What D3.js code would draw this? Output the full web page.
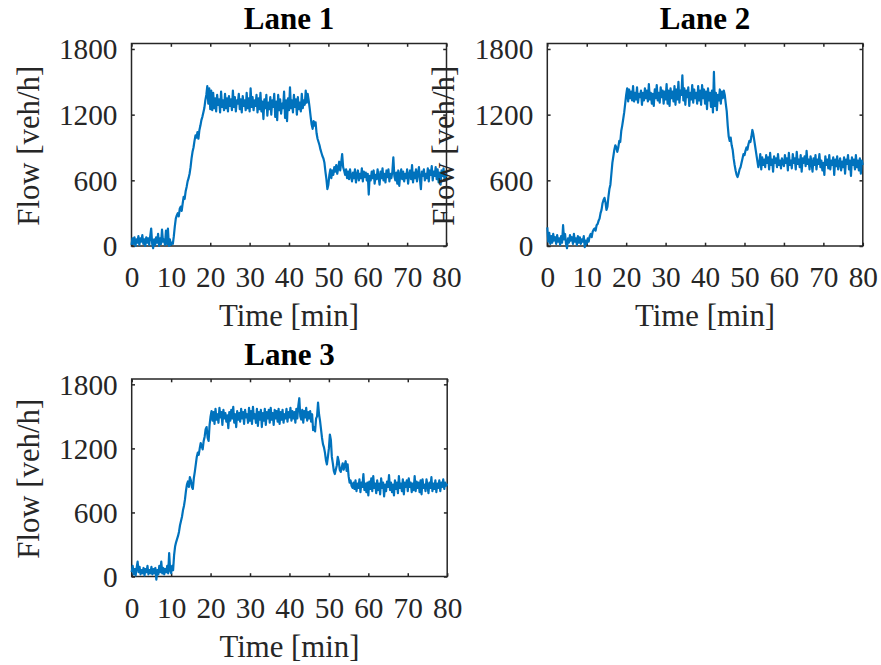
<!DOCTYPE html>
<html><head><meta charset="utf-8">
<script src="https://cdn.jsdelivr.net/npm/d3@7"></script>
<style>body{margin:0;background:#fff}</style></head><body>
<svg id="c" width="881" height="665"></svg>
<script>
// Sampling interval of the series (minutes)
const sampleStep = 0.25;
// Lane flows [veh/h], t = 0, 0.25, ..., 80 min (one row = 5 min)
const lane1 = [
 10,70,20,80,0,60,30,90,10,70,40,100,20,60,0,80,30,70,10,90,
 160,20,-20,60,10,80,30,110,0,70,20,150,40,60,10,140,20,160,0,60,
 10,30,20,90,180,250,280,300,270,340,360,320,390,450,430,500,540,590,620,660,
 720,800,860,900,960,1010,990,1040,980,1060,1100,1150,1180,1220,1260,1330,1380,1460,1300,1440,
 1250,1420,1240,1400,1260,1350,1230,1380,1290,1340,1220,1410,1270,1330,1240,1390,1260,1350,1230,1370,
 1280,1340,1240,1420,1270,1360,1230,1330,1300,1390,1250,1340,1220,1370,1280,1330,1240,1400,1260,1350,
 1230,1440,1270,1360,1240,1330,1280,1380,1220,1350,1250,1400,1230,1320,1160,1340,1260,1380,1190,1310,
 1250,1360,1200,1330,1270,1390,1180,1320,1150,1380,1240,1340,1210,1300,1260,1410,1170,1330,1140,1350,
 1240,1450,1260,1330,1220,1380,1270,1340,1200,1360,1250,1310,1230,1390,1260,1330,1290,1420,1310,1390,
 1330,1260,1180,1110,1070,1140,1100,1130,1030,980,950,920,880,850,820,800,760,680,610,520,
 560,650,700,620,690,650,720,680,740,660,710,770,690,760,840,720,690,650,700,620,
 680,610,700,640,590,670,620,700,580,650,690,600,660,620,710,590,680,630,670,600,
 660,470,640,600,680,620,690,570,650,610,700,630,560,680,620,710,600,660,580,690,
 630,700,590,660,620,680,810,640,600,670,570,690,550,650,700,610,680,590,660,620,
 700,570,650,690,610,740,580,670,620,700,590,660,720,610,520,680,640,700,600,660,
 620,710,590,690,650,730,600,680,640,720,610,700,580,670,560,690,640,710,600,660,
 630];
const lane2 = [
 170,40,120,20,90,30,110,50,80,20,100,40,70,10,90,30,190,60,110,20,
 -20,70,30,100,50,80,20,110,40,70,10,90,30,80,20,60,40,90,-10,50,
 20,70,40,90,110,80,130,150,160,140,190,200,230,250,300,330,390,420,440,400,
 330,360,450,520,560,660,760,820,880,920,900,860,900,960,950,1050,1100,1160,1220,1300,
 1380,1440,1320,1430,1350,1410,1330,1460,1320,1400,1340,1450,1310,1390,1360,1420,1290,1400,1330,1440,
 1350,1420,1320,1480,1340,1400,1300,1390,1280,1430,1350,1470,1330,1400,1310,1450,1360,1420,1300,1410,
 1340,1480,1300,1420,1280,1440,1350,1410,1320,1460,1290,1430,1340,1500,1310,1420,1380,1560,1330,1440,
 1290,1420,1360,1450,1280,1400,1340,1470,1310,1430,1350,1400,1300,1460,1330,1420,1290,1470,1350,1430,
 1300,1410,1250,1440,1330,1400,1270,1420,1220,1590,1280,1400,1240,1380,1330,1430,1300,1410,1350,1420,
 1380,1300,1230,1100,1000,960,990,920,880,800,740,690,650,630,660,700,720,760,800,840,
 830,870,900,880,930,960,950,1000,1060,1020,960,900,840,780,720,760,840,700,810,740,
 790,720,830,760,810,700,850,740,790,680,820,760,800,720,840,740,780,710,800,760,
 730,830,760,800,690,850,740,780,710,840,760,800,700,860,750,790,720,830,680,800,
 760,820,730,870,750,790,700,820,760,680,800,740,830,700,790,750,840,720,780,690,
 760,650,820,740,790,710,830,700,780,740,810,650,790,730,820,700,760,800,690,770,
 720,810,660,790,750,830,700,780,640,810,740,790,700,830,720,780,690,800,660,780,
 740];
const lane3 = [
 40,100,20,70,10,80,140,40,90,20,60,30,80,10,70,40,100,20,60,30,
 90,20,70,30,80,-30,60,20,100,40,140,30,80,20,70,40,100,30,220,60,
 30,100,60,200,280,320,350,380,420,480,520,560,620,660,720,800,860,890,840,930,
 900,840,820,920,980,1050,1120,1160,1140,1200,1250,1220,1190,1270,1310,1380,1400,1300,1270,1420,
 1500,1550,1460,1540,1430,1570,1470,1520,1440,1580,1490,1540,1420,1560,1480,1530,1450,1510,1390,1540,
 1460,1560,1480,1590,1440,1520,1400,1550,1470,1530,1450,1570,1480,1540,1430,1560,1490,1520,1440,1580,
 1460,1550,1430,1590,1480,1520,1440,1570,1410,1540,1470,1560,1400,1530,1460,1570,1420,1540,1480,1560,
 1440,1580,1470,1530,1420,1560,1480,1550,1450,1570,1430,1540,1470,1560,1440,1520,1480,1570,1450,1540,
 1490,1580,1460,1550,1480,1540,1440,1570,1480,1600,1670,1500,1470,1560,1440,1550,1490,1580,1460,1540,
 1480,1550,1450,1520,1370,1400,1360,1480,1500,1630,1520,1460,1380,1300,1240,1210,1160,1090,1050,1120,
 1200,1330,1280,1120,1060,990,960,1000,1040,1120,1080,1000,980,1020,1060,1000,1040,1080,990,1050,
 940,880,900,850,830,880,820,900,800,870,830,910,790,880,840,960,810,870,790,880,
 760,890,820,920,800,940,830,870,780,900,810,870,770,920,830,880,750,860,800,890,
 840,950,810,880,790,860,760,900,820,880,780,940,830,870,800,910,770,880,840,900,
 800,920,840,880,790,870,810,940,800,890,830,880,790,900,770,910,830,860,800,910,
 850,780,880,830,930,800,870,820,900,790,870,830,900,800,880,840,910,820,880,850,
 870];

const titles = ["Lane 1", "Lane 2", "Lane 3"];
const xTicks = [0,10,20,30,40,50,60,70,80];
const yTicks = [0,600,1200,1800];
const xDomain = [0, 80];
const yDomain = [0, 1850];
const xLabel = "Time [min]";
const yLabel = "Flow [veh/h]";

const panels = [
  {title: titles[0], data: lane1, left: 131.5, right: 446.5, top: 43.5, bottom: 246},
  {title: titles[1], data: lane2, left: 547.3, right: 862.8, top: 43.5, bottom: 246},
  {title: titles[2], data: lane3, left: 131.7, right: 447.2, top: 379, bottom: 576.5}
];

const axisColor = "#262626";
const lineColor = "#0072BD";
const font = "'Liberation Serif','Times New Roman',serif";
const fs = 29.3;
const labelFs = 30.8;
const tickLen = 3.3;

const svg = d3.select("#c");

panels.forEach(p => {
  const x = d3.scaleLinear().domain(xDomain).range([p.left, p.right]);
  const y = d3.scaleLinear().domain(yDomain).range([p.bottom, p.top]);
  const g = svg.append("g");

  g.append("rect").attr("x", p.left).attr("y", p.top)
    .attr("width", p.right - p.left).attr("height", p.bottom - p.top)
    .attr("fill", "none").attr("stroke", axisColor).attr("stroke-width", 1.5);

  const styleAxis = sel => {
    sel.select(".domain").remove();
    sel.selectAll(".tick line").attr("stroke", axisColor).attr("stroke-width", 1.5);
    sel.selectAll(".tick text").attr("fill", axisColor)
      .style("font-family", font).style("font-size", fs + "px");
  };

  const gb = g.append("g").attr("transform", `translate(0,${p.bottom})`)
    .call(d3.axisBottom(x).tickValues(xTicks).tickSizeInner(-tickLen).tickSizeOuter(0).tickFormat(d3.format("d")))
    .call(styleAxis);
  gb.selectAll(".tick text").attr("y", 41.3).attr("dy", null);

  g.append("g").attr("transform", `translate(0,${p.top})`)
    .call(d3.axisTop(x).tickValues(xTicks).tickSizeInner(-tickLen).tickSizeOuter(0).tickFormat(""))
    .call(styleAxis);

  const gl = g.append("g").attr("transform", `translate(${p.left},0)`)
    .call(d3.axisLeft(y).tickValues(yTicks).tickSizeInner(-tickLen).tickSizeOuter(0).tickFormat(d3.format("d")))
    .call(styleAxis);
  gl.selectAll(".tick text").attr("x", -14).attr("dy", "0.34em");

  g.append("g").attr("transform", `translate(${p.right},0)`)
    .call(d3.axisRight(y).tickValues(yTicks).tickSizeInner(-tickLen).tickSizeOuter(0).tickFormat(""))
    .call(styleAxis);

  const line = d3.line().x((d, i) => x(i * sampleStep)).y(d => y(d));
  g.append("path").datum(p.data).attr("d", line)
    .attr("fill", "none").attr("stroke", lineColor).attr("stroke-width", 2.2)
    .attr("stroke-linejoin", "round");

  g.append("text").attr("x", (p.left + p.right) / 2).attr("y", p.top - 14.5)
    .attr("text-anchor", "middle").style("font-family", font).style("font-weight", "bold")
    .style("font-size", "31px").attr("fill", "#000").text(p.title);

  g.append("text").attr("x", (p.left + p.right) / 2).attr("y", p.bottom + 80)
    .attr("text-anchor", "middle").style("font-family", font)
    .style("font-size", labelFs + "px").attr("fill", axisColor).text(xLabel);

  const cy = (p.top + p.bottom) / 2 + 1, lx = p.left - 93;
  g.append("text").attr("transform", `translate(${lx},${cy}) rotate(-90)`)
    .attr("text-anchor", "middle").style("font-family", font)
    .style("font-size", labelFs + "px").attr("fill", axisColor).text(yLabel);
});
</script>
</body></html>
